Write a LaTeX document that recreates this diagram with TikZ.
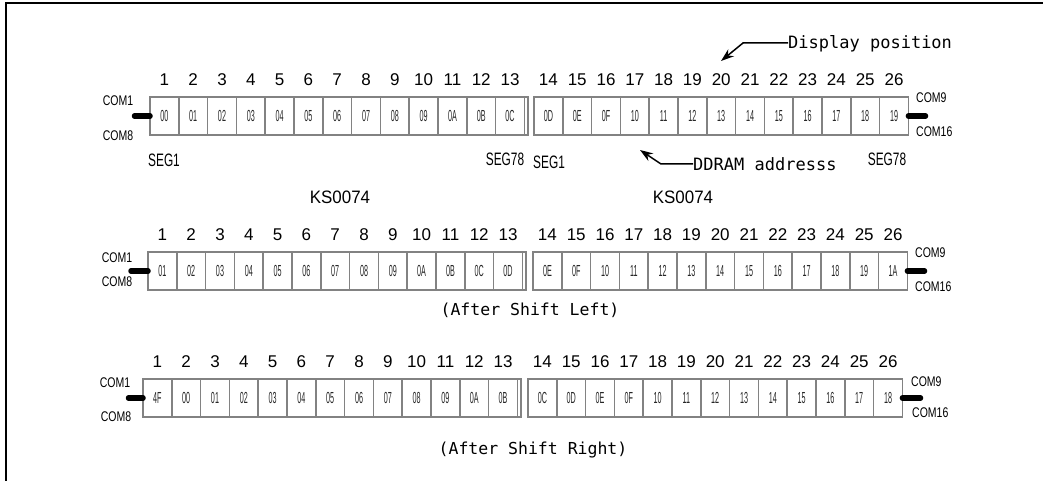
\documentclass[tikz,border=0pt]{standalone}
\usepackage{fontspec}
\usepackage{graphicx}
\setmainfont{Liberation Sans}
\newfontfamily\monof{DejaVu Sans Mono}
\usetikzlibrary{arrows.meta}
\definecolor{cellgray}{RGB}{130,130,130}
\newcommand\cellt[1]{\scalebox{0.45}[1]{\fontsize{16}{16}\selectfont #1}}
\newcommand\comt[1]{\scalebox{0.75}[1]{\fontsize{14}{14}\selectfont #1}}
\newcommand\segt[1]{\scalebox{0.66}[1]{\fontsize{18}{18}\selectfont #1}}
\newcommand\kst[1]{\scalebox{0.94}[1]{\fontsize{18}{18}\selectfont #1}}
\newcommand\lcdrow[5]{%
  \foreach \lab [count=\i] in {#5} {
    \pgfmathsetmacro\xx{\i<14 ? #2+(\i-1)*28.8 : #3+(\i-14)*28.8}
    \node[cell] (#1c\i) at (\xx,#4) {\cellt{\lab}};
    \node[num] (#1n\i) at (\xx+14.4,#4-17) {\i};
  }
  \draw[cellgray, line width=1.5pt] (#1c13.north east) -- ++(3.5,0) |- (#1c13.south east);
}
\begin{document}
\begin{tikzpicture}[x=1pt,y=-1pt,
  cell/.style={draw=cellgray, line width=1.5pt, minimum width=28.8pt, minimum height=38pt, inner sep=0pt, outer sep=0pt, anchor=north west, text=black!85},
  num/.style={inner sep=0pt, font=\fontsize{17}{17}\selectfont},
  comlab/.style={inner sep=0pt},
  stub/.style={line width=5.5pt, line cap=round},
  callout/.style={line width=1.5pt, -{Stealth[length=13pt,width=9pt]}},
  mono/.style={inner sep=0pt, font=\monof\fontsize{17}{17}\selectfont},
]
\useasboundingbox (0,0) rectangle (1043,481);
\draw[line width=2pt] (6,481) -- (6,3.5) -- (1043,3.5);

% ---- row 1
\lcdrow{a}{150}{534}{97}{00,01,02,03,04,05,06,07,08,09,0A,0B,0C,0D,0E,0F,10,11,12,13,14,15,16,17,18,19}
\coordinate (aL) at (134.5,116);
\coordinate (aR) at (925.5,116);
\draw[stub] (aL) -- (ac1.west);
\draw[stub] (ac26.east) -- (aR);
\node[comlab] (acom1) at (118,101) {\comt{COM1}};
\node[comlab] (acom8) at (118,136) {\comt{COM8}};
\node[comlab, anchor=west] (acom9) at (916,98) {\comt{COM9}};
\node[comlab, anchor=west] (acom16) at (916,132) {\comt{COM16}};
\node[inner sep=0pt] (aseg1) at (164,160) {\segt{SEG1}};
\node[inner sep=0pt] (aseg78) at (505,159) {\segt{SEG78}};
\node[inner sep=0pt] (bseg1) at (549,162) {\segt{SEG1}};
\node[inner sep=0pt] (bseg78) at (887,159) {\segt{SEG78}};
\node[inner sep=0pt] (ks1) at (340,197) {\kst{KS0074}};
\node[inner sep=0pt] (ks2) at (683,197) {\kst{KS0074}};

\node[mono, anchor=base west] (disp) at (788,49) {Display position};
\coordinate (dispbend) at (743,43);
\coordinate (disptip) at (721,61);
\draw[callout] ([yshift=6pt]disp.base west) -- (dispbend) -- (disptip);

\node[mono, anchor=base west] (ddram) at (693,170.5) {DDRAM addresss};
\coordinate (ddbend) at (661,164);
\coordinate (ddtip) at (640,150);
\draw[callout] ([yshift=6.5pt]ddram.base west) -- (ddbend) -- (ddtip);

% ---- row 2
\lcdrow{b}{148}{533}{252}{01,02,03,04,05,06,07,08,09,0A,0B,0C,0D,0E,0F,10,11,12,13,14,15,16,17,18,19,1A}
\coordinate (bL) at (131,271);
\coordinate (bR) at (924.5,271);
\draw[stub] (bL) -- (bc1.west);
\draw[stub] (bc26.east) -- (bR);
\node[comlab] (bcom1) at (117,258) {\comt{COM1}};
\node[comlab] (bcom8) at (117,282) {\comt{COM8}};
\node[comlab, anchor=west] (bcom9) at (915,253) {\comt{COM9}};
\node[comlab, anchor=west] (bcom16) at (915,287) {\comt{COM16}};
\node[mono, font=\monof\fontsize{16.5}{16.5}\selectfont] (shl) at (530,310) {(After Shift Left)};

% ---- row 3
\lcdrow{c}{143}{528}{379}{4F,00,01,02,03,04,05,06,07,08,09,0A,0B,0C,0D,0E,0F,10,11,12,13,14,15,16,17,18}
\coordinate (cL) at (128.5,398);
\coordinate (cR) at (920.5,398);
\draw[stub] (cL) -- (cc1.west);
\draw[stub] (cc26.east) -- (cR);
\node[comlab] (ccom1) at (115,383) {\comt{COM1}};
\node[comlab] (ccom8) at (116,417) {\comt{COM8}};
\node[comlab, anchor=west] (ccom9) at (911,382) {\comt{COM9}};
\node[comlab, anchor=west] (ccom16) at (912,413) {\comt{COM16}};
\node[mono, font=\monof\fontsize{16.5}{16.5}\selectfont] (shr) at (533,450) {(After Shift Right)};
\end{tikzpicture}
\end{document}
